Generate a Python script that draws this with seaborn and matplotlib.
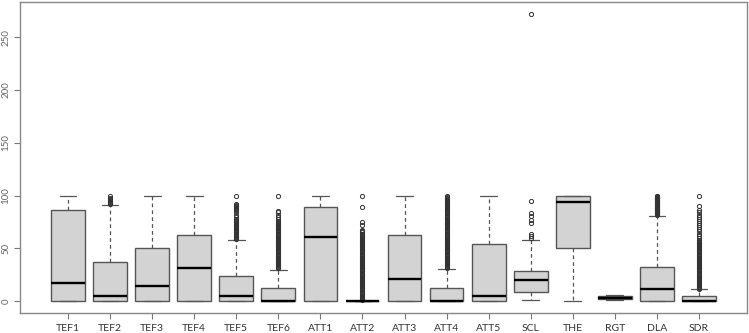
import matplotlib
matplotlib.use("Agg")
import matplotlib.pyplot as plt
import seaborn as sns
import pandas as pd

# ---- data ----
categories = ["TEF1", "TEF2", "TEF3", "TEF4", "TEF5", "TEF6", "ATT1", "ATT2",
              "ATT3", "ATT4", "ATT5", "SCL", "THE", "RGT", "DLA", "SDR"]
whisker_low = [0, 0, 0, 0, 0, 0, 0, 0, 0, 0, 0, 1.3, 0, 0.6, 0, 0]
q1 =          [0, 0, 0, 0, 0, 0, 0, 0, 0, 0, 0, 8.2, 50, 2.0, 0, 0]
median =      [17, 4.4, 14.5, 31, 5, 0, 60.4, 0, 21, 0, 5, 19.6, 94.3, 3.3, 11, 0.3]
q3 =          [86, 36.7, 50, 62.5, 23.4, 12, 89, 0, 62.7, 12, 53.8, 28.5, 100, 4.7, 32.5, 4.5]
whisker_high = [100, 91, 100, 100, 57.6, 29, 100, 0, 100, 30, 100, 58, 100, 5.4, 81, 11]

outliers = {
    "TEF2": [92, 93, 94, 95, 96, 97, 98, 100],
    "TEF5": [59, 60, 61, 62, 63, 64, 65, 66, 67, 68, 69, 70, 71, 72, 73, 74, 75,
             76, 77, 78, 80, 82, 84, 86, 87, 88, 89, 90, 91, 92, 100],
    "TEF6": [31, 32, 33, 34, 35, 36, 37, 38, 39, 40, 41, 42, 43, 44, 45, 46, 47,
             48, 49, 50, 51, 52, 53, 54, 55, 56, 57, 58, 59, 60, 61, 62, 63, 64,
             65, 66, 67, 68, 69, 70, 71, 72, 73, 74, 75, 76, 78, 80, 82, 84, 85, 100],
    "ATT2": [1, 2, 3, 4, 5, 6, 7, 8, 9, 10, 11, 12, 13, 14, 15, 16, 17, 18, 19,
             20, 21, 22, 23, 24, 25, 26, 27, 28, 29, 30, 31, 32, 33, 34, 35, 36,
             37, 38, 39, 40, 41, 42, 43, 44, 45, 46, 47, 48, 49, 50, 51, 52, 53,
             54, 55, 56, 57, 58, 59, 60, 61, 62, 63, 64, 65, 66, 67, 72, 75, 89, 100],
    "ATT4": [31, 32, 33, 34, 35, 36, 37, 38, 39, 40, 41, 42, 43, 44, 45, 46, 47,
             48, 49, 50, 51, 52, 53, 54, 55, 56, 57, 58, 59, 60, 61, 62, 63, 64,
             65, 66, 67, 68, 69, 70, 71, 72, 73, 74, 75, 76, 77, 78, 79, 80, 81,
             82, 83, 84, 85, 86, 87, 88, 89, 90, 91, 92, 93, 94, 95, 96, 97, 98,
             99, 100],
    "SCL": [59.5, 61.5, 64, 73.5, 77, 80.5, 83.5, 95, 272],
    "DLA": [82, 82.5, 83, 83.5, 84, 84.5, 85, 85.5, 86, 86.5, 87, 87.5, 88, 88.5,
            89, 89.5, 90, 90.5, 91, 91.5, 92, 92.5, 93, 93.5, 94, 94.5, 95, 95.5,
            96, 96.5, 97, 97.5, 98, 98.5, 99, 99.5, 100],
    "SDR": [11.5, 12, 13, 14, 15, 16, 17, 18, 19, 20, 21, 22, 23, 24, 25, 26, 27,
            28, 29, 30, 31, 32, 33, 34, 35, 36, 37, 38, 39, 40, 41, 42, 43, 44,
            45, 46, 47, 48, 49, 50, 51, 52, 53, 54, 55, 56, 57, 58, 60, 62, 64,
            66, 68, 70, 72, 74, 76, 78, 80, 82, 84, 86, 90, 100],
}

y_ticks = [0, 50, 100, 150, 200, 250]


# Build a sample per variable whose linear-percentile quartiles and
# 1.5*IQR whiskers reproduce the summary values read above.
def sample_for(lo, a, m, b, hi, out):
    k = len(out) + 1
    return [lo] + [a] * k + [m] * k + [b] * k + [hi] + list(out)


rows = []
for i, c in enumerate(categories):
    for v in sample_for(whisker_low[i], q1[i], median[i], q3[i], whisker_high[i],
                        outliers.get(c, [])):
        rows.append((c, v))
df = pd.DataFrame(rows, columns=["variable", "value"])

sns.set_style("white")
plt.rcParams["font.family"] = ["Lato", "DejaVu Sans"]

fig = plt.figure(figsize=(7.49, 3.33), dpi=100)
ax = fig.add_axes([20 / 749, (333 - 312.5) / 333, 727 / 749, 310.5 / 333])

sns.boxplot(
    data=df, x="variable", y="value", order=categories, ax=ax,
    color="#d3d3d3", saturation=1, width=0.8, linecolor="#555555",
    linewidth=1.0, fliersize=3.0,
    medianprops=dict(color="black", linewidth=1.7),
    whiskerprops=dict(linestyle=(0, (3, 2.5)), color="#555555", linewidth=0.9),
    capprops=dict(color="#555555", linewidth=0.9),
    flierprops=dict(marker="o", markerfacecolor="none", markeredgecolor="#333333",
                    markeredgewidth=0.7),
)

ax.set_xlim(-1.14, 16.14)
ax.set_ylim(-10.9, 283.5)
ax.set_yticks(y_ticks)
ax.set_yticklabels([str(t) for t in y_ticks], rotation=90, va="center",
                   color="#666666", fontsize=7)
ax.set_xticks(range(len(categories)))
ax.set_xticklabels(categories, color="#333333", fontsize=7.5)
ax.set_xlabel("")
ax.set_ylabel("")
ax.tick_params(axis="both", direction="out", length=4, width=0.8,
               color="#777777", left=True, bottom=True)
ax.tick_params(axis="x", pad=4)
ax.tick_params(axis="y", pad=3)
for s in ax.spines.values():
    s.set_visible(True)
    s.set_color("#888888")
    s.set_linewidth(1.0)

fig.savefig("out.png", dpi=100)
